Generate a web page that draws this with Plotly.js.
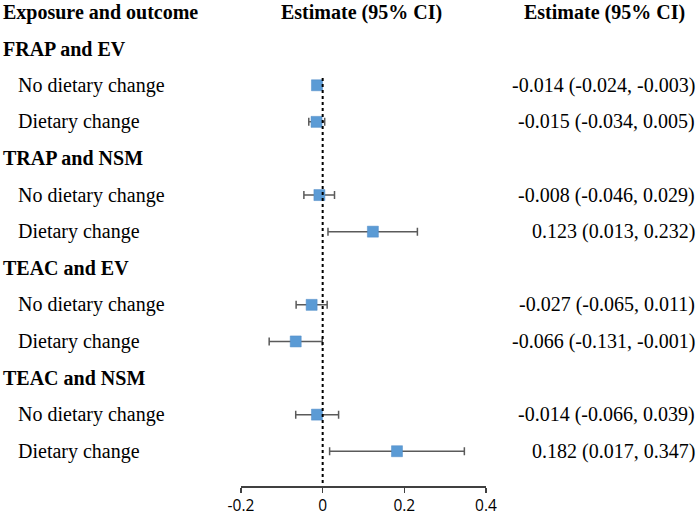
<!DOCTYPE html>
<html>
<head>
<meta charset="utf-8">
<script src="https://cdn.plot.ly/plotly-3.0.1.min.js"></script>
<style>html,body{margin:0;padding:0;background:#fff;}#chart{width:700px;height:516px;}</style>
</head>
<body>
<div id="chart"></div>
<script>
// ---- data ----
var groups = ["FRAP and EV", "TRAP and NSM", "TEAC and EV", "TEAC and NSM"];
var subgroups = ["No dietary change", "Dietary change"];
var estimates = [-0.014, -0.015, -0.008, 0.123, -0.027, -0.066, -0.014, 0.182];
var lowerCI = [-0.024, -0.034, -0.046, 0.013, -0.065, -0.131, -0.066, 0.017];
var upperCI = [-0.003, 0.005, 0.029, 0.232, 0.011, -0.001, 0.039, 0.347];
var tickVals = [-0.2, 0, 0.2, 0.4];
var tickText = ["-0.2", "0", "0.2", "0.4"];
var headers = ["Exposure and outcome", "Estimate (95% CI)", "Estimate (95% CI)"];

// ---- layout helpers ----
var serif = "Liberation Serif, Times New Roman, serif";
var fs = 20;
var rowsY = [];
var groupY = [];
var r = 1;
for (var g = 0; g < groups.length; g++) {
  groupY.push(r); r++;
  for (var s = 0; s < subgroups.length; s++) { rowsY.push(r); r++; }
}

var plusErr = estimates.map(function (e, i) { return upperCI[i] - e; });
var minusErr = estimates.map(function (e, i) { return e - lowerCI[i]; });

var trace = {
  type: "scatter", mode: "markers",
  x: estimates, y: rowsY,
  cliponaxis: false,
  marker: { symbol: "square", size: 11, color: "#5B9BD5", line: { color: "#4F8BC7", width: 0.5 } },
  error_x: { type: "data", symmetric: false, array: plusErr, arrayminus: minusErr,
             color: "#5a5a5a", thickness: 1.5, width: 4 },
  hoverinfo: "skip", showlegend: false
};

function fmt(v) { return v.toFixed(3); }
function ann(text, x, y, anchor) {
  return { text: text, xref: "paper", yref: "y", x: x, y: y, xanchor: anchor, yanchor: "middle",
           showarrow: false, font: { family: serif, size: fs, color: "#000" } };
}

var annotations = [];
annotations.push(ann("<b>" + headers[0] + "</b>", -0.978, 0, "left"));
annotations.push(ann("<b>" + headers[1] + "</b>", 0.49, 0, "center"));
annotations.push(ann("<b>" + headers[2] + "</b>", 1.482, 0, "center"));

var k = 0;
for (var g2 = 0; g2 < groups.length; g2++) {
  annotations.push(ann("<b>" + groups[g2] + "</b>", -0.978, groupY[g2], "left"));
  for (var s2 = 0; s2 < subgroups.length; s2++) {
    annotations.push(ann(subgroups[s2], -0.918, rowsY[k], "left"));
    annotations.push(ann(fmt(estimates[k]) + " (" + fmt(lowerCI[k]) + ", " + fmt(upperCI[k]) + ")",
      1.861, rowsY[k], "right"));
    k++;
  }
}

var layout = {
  width: 700, height: 516,
  margin: { l: 241, r: 214, t: 0, b: 30 },
  paper_bgcolor: "#fff", plot_bgcolor: "#fff",
  xaxis: {
    range: [-0.2, 0.4], tickvals: tickVals, ticktext: tickText,
    showgrid: false, zeroline: false, showline: true, linecolor: "#404040", linewidth: 1.5,
    ticks: "outside", ticklen: 5, tickwidth: 1.5, tickcolor: "#404040",
    tickfont: { family: "Open Sans, Noto Sans, sans-serif", size: 15.5, color: "#000" }
  },
  yaxis: { range: [12.95, -0.33], visible: false, showgrid: false, zeroline: false },
  shapes: [{ type: "line", xref: "x", yref: "y", x0: 0, x1: 0, y0: 1.8, y1: 12.95,
             line: { color: "#000", width: 2, dash: "dot" } }],
  annotations: annotations
};

Plotly.newPlot("chart", [trace], layout, { staticPlot: true, displayModeBar: false });
</script>
</body>
</html>
